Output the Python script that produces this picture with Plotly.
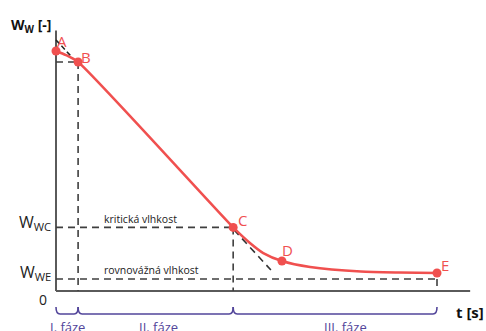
import plotly.graph_objects as go

# ---- data (t in arbitrary units, W normalised) ----
point_labels = ["A", "B", "C", "D", "E"]
point_t = [0.0, 0.58, 4.65, 5.93, 10.0]
point_w = [1.0, 0.954, 0.265, 0.125, 0.075]

# drying curve samples
curve_t = [0.0, 0.26, 0.58, 4.65, 5.09, 5.44, 5.93, 6.67, 8.0, 9.0, 10.0]
curve_w = [1.0, 0.983, 0.954, 0.265, 0.200, 0.158, 0.125, 0.100, 0.081, 0.077, 0.075]

w_critical = 0.265
w_equilibrium = 0.05

tangent_a_t = [0.0, 0.39]
tangent_a_w = [1.046, 0.979]
tangent_c_t = [4.67, 5.64]
tangent_c_w = [0.255, 0.0875]

phase_labels = ["I. fáze", "II. fáze", "III. fáze"]
phase_bounds = [0.0, 0.58, 4.65, 10.0]

axis_t_max = 10.87
axis_w_max = 1.085

# ---- styles ----
RED = "#f0504f"
DASH = "#3f3f3f"
PURPLE = "#52459a"
AXIS = "#5a5a5a"
FONT = "Open Sans"

W, H = 486, 331
# pixel mapping for full-figure axes
X0_PX, T_SCALE = 56, 38.1
Y0_PX, W_SCALE = 291, 240
x_range = [(0 - X0_PX) / T_SCALE, (W - X0_PX) / T_SCALE]
y_range = [(Y0_PX - H) / W_SCALE, (Y0_PX - 0) / W_SCALE]

fig = go.Figure()

dash_style = dict(color=DASH, width=1.6, dash="7px,5px")

def dline(xs, ys, style):
    fig.add_trace(go.Scatter(x=xs, y=ys, mode="lines", line=style,
                             hoverinfo="skip", showlegend=False))

# axes
dline([0, 0], [0, axis_w_max], dict(color=AXIS, width=2))
dline([0, axis_t_max], [0, 0], dict(color=AXIS, width=2))

# dashed helper lines
dline([0, point_t[2]], [w_critical, w_critical], dash_style)
dline([0, point_t[4]], [w_equilibrium, w_equilibrium], dash_style)
dline([0, point_t[1]], [point_w[1], point_w[1]], dash_style)
dline([point_t[1], point_t[1]], [point_w[1], 0], dash_style)
dline([point_t[2], point_t[2]], [point_w[2], 0], dash_style)
dline([point_t[4], point_t[4]], [w_equilibrium, 0], dash_style)
dline(tangent_a_t, tangent_a_w, dict(color="#222222", width=1.5, dash="5px,3px"))
dline(tangent_c_t, tangent_c_w, dict(color="#333333", width=1.6, dash="7px,5px"))

# drying curve
fig.add_trace(go.Scatter(x=curve_t, y=curve_w, mode="lines",
                         line=dict(color=RED, width=2.5, shape="spline", smoothing=0.6),
                         hoverinfo="skip", showlegend=False))
fig.add_trace(go.Scatter(x=point_t, y=point_w, mode="markers",
                         marker=dict(color=RED, size=9),
                         hoverinfo="skip", showlegend=False))

# point labels
label_shifts = [(6, 10), (8, 5), (9, 7), (6, 11), (8, 8)]
for lab, t, w, (dx, dy) in zip(point_labels, point_t, point_w, label_shifts):
    fig.add_annotation(x=t, y=w, text=lab, showarrow=False, xshift=dx, yshift=dy,
                       font=dict(family=FONT, size=15, color=RED))

# braces under the axis
b_top = (Y0_PX - 307) / W_SCALE
b_bot = (Y0_PX - 314) / W_SCALE
r = 4 / T_SCALE
for a, b in zip(phase_bounds[:-1], phase_bounds[1:]):
    path = (f"M {a},{b_top} Q {a},{b_bot} {a + r},{b_bot} "
            f"L {b - r},{b_bot} Q {b},{b_bot} {b},{b_top}")
    fig.add_shape(type="path", path=path, xref="x", yref="y",
                  line=dict(color=PURPLE, width=1.6))

def px(x):
    return x / W

def py(y):
    return 1 - y / H

def text(x, y, s, size, color="#222222", xanchor="center", yanchor="middle", family=FONT):
    fig.add_annotation(x=px(x), y=py(y), xref="paper", yref="paper", text=s,
                       showarrow=False, xanchor=xanchor, yanchor=yanchor,
                       font=dict(family=family, size=size, color=color))

# phase labels (cut at the bottom edge as in the reference)
for lab, xx in zip(phase_labels, [48, 137, 322]):
    text(xx, 316, lab, 13, PURPLE, xanchor="left", yanchor="top")

text(9, 25, "<b>W<sub>W</sub> [-]</b>", 14, "#111111", xanchor="left")
text(53, 222, "W<sub>WC</sub>", 16, "#222222", xanchor="right")
text(53, 272, "W<sub>WE</sub>", 16, "#222222", xanchor="right")
text(43, 299, "0", 14, "#222222")
text(102, 219, "kritická vlhkost", 10.5, "#222222", xanchor="left")
text(102, 270, "rovnovážná vlhkost", 10.5, "#222222", xanchor="left")
text(470, 312, "<b>t [s]</b>", 15, "#111111")

fig.update_layout(
    width=W, height=H,
    margin=dict(l=0, r=0, t=0, b=0),
    paper_bgcolor="white", plot_bgcolor="white",
    xaxis=dict(range=x_range, visible=False, fixedrange=True),
    yaxis=dict(range=y_range, visible=False, fixedrange=True),
    showlegend=False,
)

fig.write_html(
    "out.html",
    config={"displayModeBar": False},
    post_script="document.body.style.margin='0px';document.body.style.overflow='hidden';",
)
